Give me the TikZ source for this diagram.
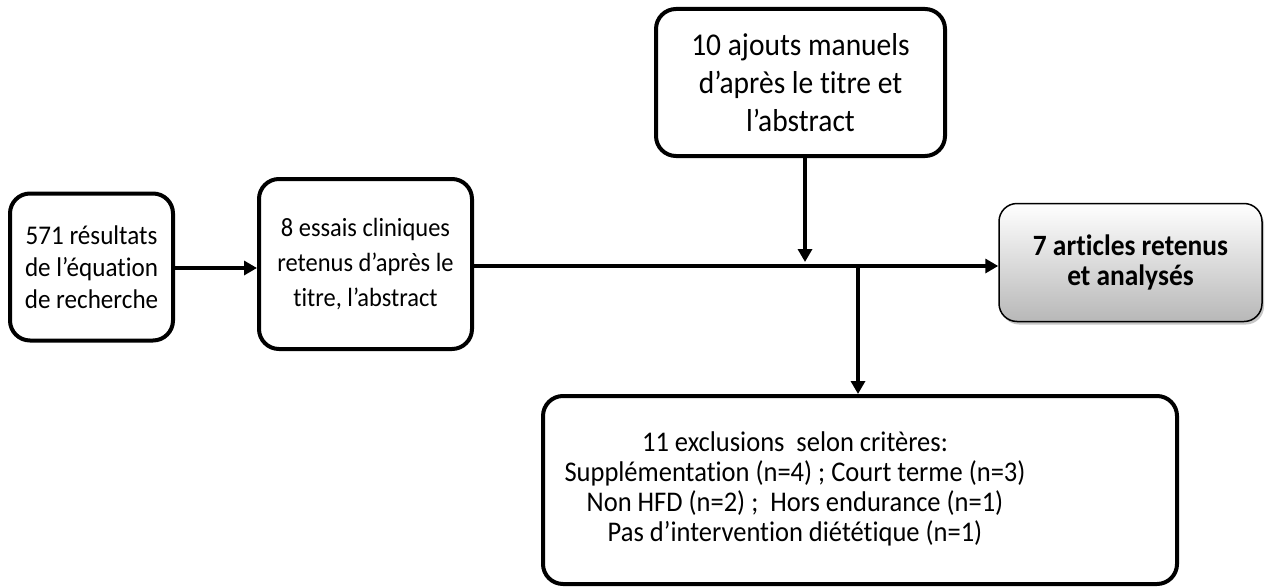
\documentclass[tikz,border=0pt]{standalone}
\usepackage{fontspec}
\setmainfont{Carlito}[Ligatures={NoCommon},FakeStretch=0.93]
\usetikzlibrary{arrows.meta,shadows}
\begin{document}
\begin{tikzpicture}[x=1pt,y=-1pt,
  box/.style={draw, line width=4pt, rounded corners=20pt, align=center, inner sep=0pt},
  finalbox/.style={draw, line width=1.5pt, rounded corners=18pt, align=center, inner sep=0pt,
    top color=white, bottom color=black!28,
    drop shadow={shadow xshift=2pt, shadow yshift=-3pt, opacity=0.45},
    font=\fontsize{29.5}{30}\selectfont\bfseries},
  arr/.style={line width=4pt, -{Triangle[length=13pt,width=14pt]}}]
\useasboundingbox (0,0) rectangle (1265,586);
\node[box, minimum width=163pt, minimum height=147pt, font=\fontsize{27}{32}\selectfont] (A) at (91.5,267) {571 résultats\\de l’équation\\de recherche};
\node[box, minimum width=213pt, minimum height=170pt, font=\fontsize{26.3}{35}\selectfont] (B) at (365.5,264) {8 essais cliniques\\retenus d’après le\\titre, l’abstract};
\node[box, minimum width=289pt, minimum height=147pt, font=\fontsize{31.7}{38}\selectfont] (C) at (800.5,82.5) {10 ajouts manuels\\d’après le titre et\\l’abstract};
\node[finalbox, minimum width=263pt, minimum height=118pt] (D) at (1130.5,262.5) {7 articles retenus\\et analysés};
\node[box, minimum width=634pt, minimum height=188pt, font=\fontsize{28.5}{30}\selectfont] (E) at (860,490)
  {\raisebox{5pt}{\begin{tabular}{@{}c@{}}11 exclusions\ \ selon critères:\\Supplémentation (n=4) ; Court terme (n=3)\\Non HFD (n=2) ;\ \ Hors endurance (n=1)\\Pas d’intervention diététique (n=1)\end{tabular}}\hspace*{130pt}};
\coordinate (j1) at (805,266);
\coordinate (j2) at (858,266);
\draw[arr] (A.east |- 0,268) -- (B.west |- 0,268);
\draw[arr] (B.east |- 0,266) -- (D.west |- 0,266);
\draw[arr] (C.south -| j1) -- ([yshift=4pt]j1);
\draw[arr] (j2) -- (E.north -| j2);
\end{tikzpicture}
\end{document}
